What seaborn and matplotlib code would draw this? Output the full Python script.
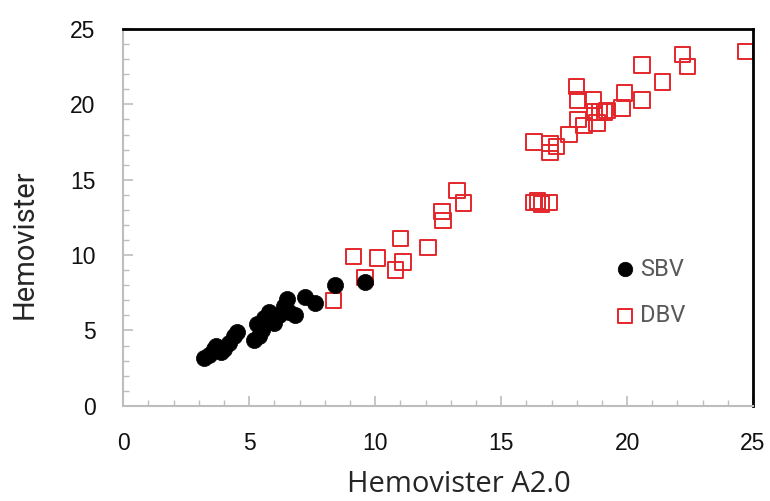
import pandas as pd
import seaborn as sns
import matplotlib.pyplot as plt
from matplotlib.ticker import MultipleLocator

# SBV readings (Hemovister A2.0 vs Hemovister)
sbv_x = [3.2, 3.4, 3.6, 3.7, 3.9, 4.0, 4.2, 4.4, 4.5, 5.2, 5.4, 5.3, 5.5, 5.6,
         5.8, 6.0, 6.2, 6.4, 6.5, 6.6, 6.8, 7.2, 7.6, 8.4, 9.6]
sbv_y = [3.2, 3.4, 3.8, 4.0, 3.6, 3.8, 4.2, 4.6, 4.9, 4.4, 4.6, 5.4, 5.0, 5.8,
         6.2, 5.5, 6.0, 6.6, 7.1, 6.2, 6.0, 7.2, 6.8, 8.0, 8.2]

# DBV readings
dbv_x = [8.35, 9.6, 9.15, 10.1, 10.8, 11.1, 11.0, 12.1, 12.65, 12.7, 13.25, 13.5,
         16.3, 16.45, 16.6, 16.9, 16.3, 16.95, 16.95, 17.2, 17.7, 18.0, 18.05,
         18.05, 18.3, 18.65, 18.7, 18.8, 18.9, 19.1, 19.2, 19.8, 19.9, 20.6,
         20.6, 21.4, 22.2, 22.4, 24.7]
dbv_y = [7.0, 8.5, 9.9, 9.8, 9.0, 9.55, 11.1, 10.5, 12.9, 12.3, 14.3, 13.45,
         13.5, 13.6, 13.4, 13.5, 17.5, 17.4, 16.8, 17.2, 18.0, 21.2, 20.3,
         19.0, 18.6, 20.3, 19.5, 18.75, 19.5, 19.5, 19.6, 19.75, 20.75, 20.3,
         22.6, 21.5, 23.3, 22.5, 23.5]

sbv = pd.DataFrame({"x": sbv_x, "y": sbv_y})
dbv = pd.DataFrame({"x": dbv_x, "y": dbv_y})

sns.set_style("white")
plt.rcParams['font.family'] = ['Liberation Sans', 'DejaVu Sans']

fig = plt.figure(figsize=(7.7, 5.01), dpi=100)
ax = fig.add_axes([0.16, 0.19, 0.818, 0.752])

red = "#e3262b"
sns.scatterplot(data=sbv, x="x", y="y", ax=ax, color="black", marker="o",
                s=135, edgecolor="black", linewidth=0.5, label="SBV", zorder=3)
sns.scatterplot(data=dbv, x="x", y="y", ax=ax, marker="s", s=125,
                facecolor="none", edgecolor=red, linewidth=1.4, label="DBV",
                zorder=2)

ax.set_xlim(0, 25)
ax.set_ylim(0, 25)
ax.xaxis.set_major_locator(MultipleLocator(5))
ax.yaxis.set_major_locator(MultipleLocator(5))
ax.xaxis.set_minor_locator(MultipleLocator(1))
ax.yaxis.set_minor_locator(MultipleLocator(1))

for side in ["left", "bottom"]:
    ax.spines[side].set_color("#bdbdbd")
    ax.spines[side].set_linewidth(1.5)
for side in ["top", "right"]:
    ax.spines[side].set_color("black")
    ax.spines[side].set_linewidth(2)

ax.tick_params(which="both", direction="in", color="#bdbdbd", bottom=True,
               left=True, top=False, right=False)
ax.tick_params(which="major", length=7, width=1.2)
ax.tick_params(which="minor", length=4, width=1)
ax.tick_params(axis="x", which="major", pad=19, labelsize=16.5, labelcolor="#111111")
ax.tick_params(axis="y", which="major", pad=20, labelsize=16.5, labelcolor="#111111")

ax.set_xlabel("Hemovister A2.0", fontsize=21, color="#262626",
              family=["Open Sans", "DejaVu Sans"], va="center", ha="center")
ax.set_ylabel("Hemovister", fontsize=21, color="#262626",
              family=["Roboto", "DejaVu Sans"], va="center", ha="center")
ax.xaxis.set_label_coords(0.533, -0.208)
ax.yaxis.set_label_coords(-0.156, 0.43)

leg = ax.legend(loc="center left", bbox_to_anchor=(0.778, 0.301), frameon=False,
                fontsize=17, handletextpad=0.15, labelspacing=1.0,
                handlelength=1.0, markerscale=0.9, borderpad=0,
                borderaxespad=0)
for t in leg.get_texts():
    t.set_color("#595959")
    t.set_family(["Roboto", "DejaVu Sans"])

fig.savefig("out.png", dpi=100)
